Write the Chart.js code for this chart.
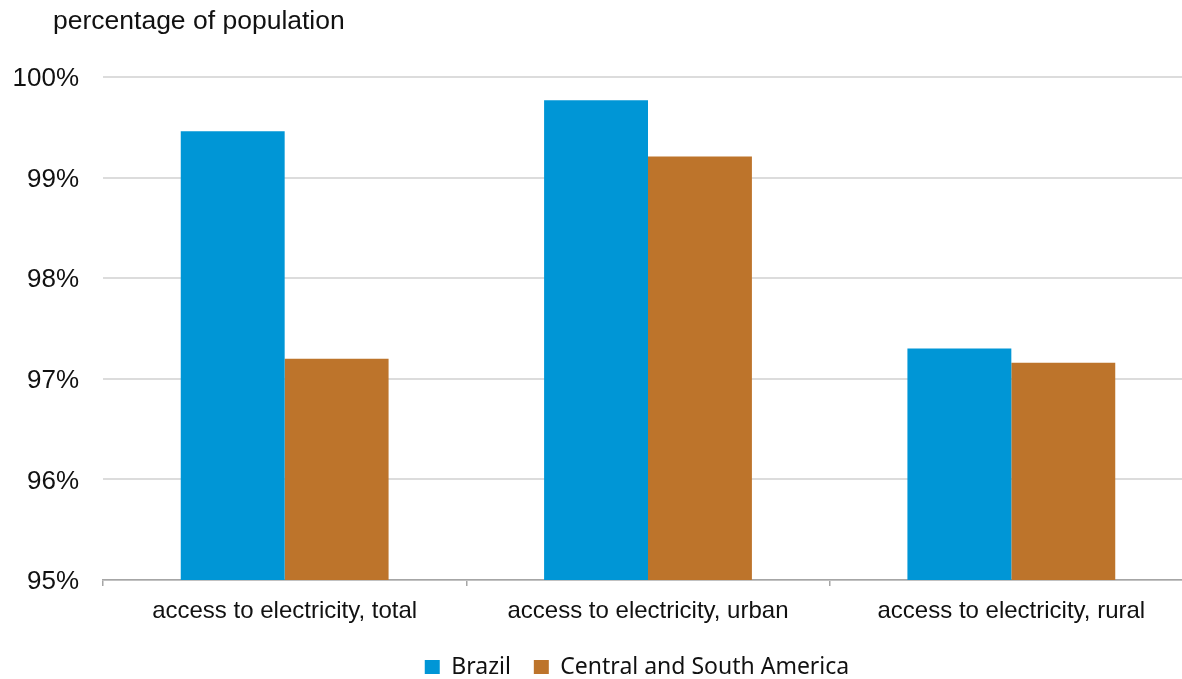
<!DOCTYPE html>
<html>
<head>
<meta charset="utf-8">
<script src="https://cdn.jsdelivr.net/npm/chart.js@4.4.1/dist/chart.umd.min.js"></script>
<style>
  html, body { margin: 0; padding: 0; background: #fff; overflow: hidden; }
  #wrap { position: relative; width: 1230px; height: 679px; }
</style>
</head>
<body>
<div id="wrap"><canvas id="chart"></canvas></div>
<script>
// Access to electricity, share of population
const categories = [
  'access to electricity, total',
  'access to electricity, urban',
  'access to electricity, rural'
];
const brazil = [99.46, 99.77, 97.30];
const centralSouthAmerica = [97.20, 99.21, 97.16];
const yTicks = [95, 96, 97, 98, 99, 100];
const axisTitle = 'percentage of population';

const BLUE = '#0096d6';
const BROWN = '#bd742b';

// Unit caption above the value axis, and legend placement under the plot
const captionPlugin = {
  id: 'caption',
  beforeDraw(chart) {
    const lg = chart.legend;
    if (lg) {
      lg.left = 81;
      lg.right = chart.chartArea.right;
      lg.top = 633;
    }
  },
  afterDraw(chart) {
    const ctx = chart.ctx;
    ctx.save();
    ctx.font = '26.5px "Liberation Sans", Arial, sans-serif';
    ctx.fillStyle = '#111';
    ctx.textAlign = 'left';
    ctx.textBaseline = 'alphabetic';
    ctx.fillText(axisTitle, 53, 29);
    ctx.restore();
  }
};

new Chart(document.getElementById('chart'), {
  type: 'bar',
  data: {
    labels: categories,
    datasets: [
      { label: 'Brazil', data: brazil, backgroundColor: BLUE },
      { label: 'Central and South America', data: centralSouthAmerica, backgroundColor: BROWN }
    ]
  },
  options: {
    responsive: true,
    maintainAspectRatio: false,
    animation: false,
    datasets: { bar: { categoryPercentage: 0.572, barPercentage: 1.0 } },
    layout: { padding: { left: 0, right: 37, top: 77, bottom: 5 } },
    plugins: {
      tooltip: { enabled: false },
      legend: {
        position: 'bottom',
        maxHeight: 30,
        labels: {
          boxWidth: 15,
          boxHeight: 15,
          padding: 23,
          color: '#111',
          font: { family: '"Noto Sans", "Open Sans", sans-serif', size: 23 }
        }
      }
    },
    scales: {
      x: {
        grid: { offset: true, drawOnChartArea: false, drawTicks: true, tickLength: 6, color: '#a6a6a6', lineWidth: 1.5 },
        border: { display: true, color: '#a6a6a6', width: 1.5 },
        ticks: { color: '#111', padding: 11, font: { family: '"Liberation Sans", Arial, sans-serif', size: 24 } },
        afterFit(scale) { scale.height = 64; }
      },
      y: {
        min: 95,
        max: 100,
        afterBuildTicks(scale) { scale.ticks = yTicks.map(v => ({ value: v })); },
        grid: { drawTicks: false, color: '#dcdcdc', lineWidth: 2 },
        border: { display: false },
        ticks: {
          color: '#111',
          padding: 24,
          labelOffset: 2,
          font: { family: '"Liberation Sans", Arial, sans-serif', size: 26 },
          callback: v => v + '%'
        },
        afterFit(scale) { scale.width = 103; }
      }
    }
  },
  plugins: [captionPlugin]
});
</script>
</body>
</html>
